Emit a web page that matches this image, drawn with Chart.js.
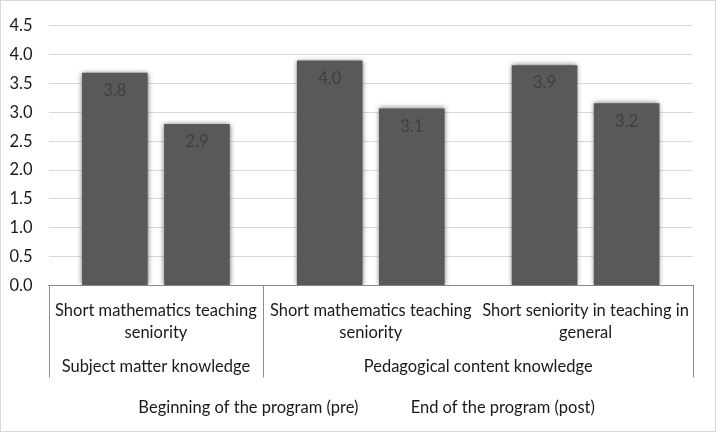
<!DOCTYPE html>
<html>
<head>
<meta charset="utf-8">
<script src="https://cdn.jsdelivr.net/npm/chart.js@4"></script>
<style>
  html, body { margin: 0; padding: 0; background: #fff; }
  #wrap { width: 723px; height: 434px; position: relative; }
</style>
</head>
<body>
<div id="wrap"><canvas id="chart"></canvas></div>
<script>
// category labels (inner level) and their outer groups
const categories = [
    ['Short mathematics teaching', 'seniority'],
    ['Short mathematics teaching', 'seniority'],
    ['Short seniority in teaching in', 'general']
];
const groupNames = ['Subject matter knowledge', 'Pedagogical content knowledge'];
const groupSpans = [1, 2];

// bar heights
const preValues = [3.69, 3.90, 3.82];
const postValues = [2.80, 3.07, 3.16];
// value labels printed inside the bars
const preLabels = ['3.8', '4.0', '3.9'];
const postLabels = ['2.9', '3.1', '3.2'];

const seriesNames = ['Beginning of the program (pre)', 'End of the program (post)'];
const yTicks = [0, 0.5, 1, 1.5, 2, 2.5, 3, 3.5, 4, 4.5];

const FONT = 'Lato';
const FSIZE = 16.5;
const barColor = '#595959';
const textColor = '#1a1a1a';

// soft edges on the bars
const barBlur = {
    id: 'barBlur',
    beforeDatasetsDraw(chart) {
        const ctx = chart.ctx;
        ctx.save();
        ctx.shadowColor = 'rgba(89,89,89,0.9)';
        ctx.shadowBlur = 5;
    },
    afterDatasetsDraw(chart) {
        chart.ctx.restore();
    }
};

// value labels just inside the top of each bar
const valueLabels = {
    id: 'valueLabels',
    afterDatasetsDraw(chart) {
        const ctx = chart.ctx;
        const texts = [preLabels, postLabels];
        ctx.save();
        ctx.font = FSIZE + 'px ' + FONT;
        ctx.fillStyle = '#3f3f3f';
        ctx.textAlign = 'center';
        ctx.textBaseline = 'middle';
        chart.data.datasets.forEach((ds, i) => {
            chart.getDatasetMeta(i).data.forEach((bar, j) => {
                ctx.fillText(texts[i][j], bar.x, bar.y + 18);
            });
        });
        ctx.restore();
    }
};

// outer category level, separator lines and chart border
const multiLevel = {
    id: 'multiLevel',
    afterDraw(chart) {
        const ctx = chart.ctx;
        const x = chart.scales.x;
        const top = x.top;
        const lineBottom = top + 92;
        ctx.save();
        ctx.strokeStyle = '#8c8c8c';
        ctx.lineWidth = 1;
        const bounds = [-0.5];
        let acc = 0;
        groupSpans.forEach(s => { acc += s; bounds.push(acc - 0.5); });
        bounds.forEach(b => {
            let px = Math.round(x.getPixelForValue(b)) + 0.5;
            ctx.beginPath();
            ctx.moveTo(px, top);
            ctx.lineTo(px, lineBottom);
            ctx.stroke();
        });
        ctx.font = FSIZE + 'px ' + FONT;
        ctx.fillStyle = textColor;
        ctx.textAlign = 'center';
        ctx.textBaseline = 'middle';
        groupNames.forEach((name, i) => {
            const a = x.getPixelForValue(bounds[i]);
            const b = x.getPixelForValue(bounds[i + 1]);
            ctx.fillText(name, (a + b) / 2, top + 81);
        });
        ctx.strokeStyle = '#d9d9d9';
        ctx.strokeRect(0.5, 0.5, 715, 431);
        ctx.restore();
    }
};

new Chart(document.getElementById('chart'), {
    type: 'bar',
    data: {
        labels: categories,
        datasets: [
            { label: seriesNames[0], data: preValues, backgroundColor: barColor },
            { label: seriesNames[1], data: postValues, backgroundColor: barColor }
        ]
    },
    options: {
        responsive: true,
        maintainAspectRatio: false,
        animation: false,
        categoryPercentage: 0.764,
        barPercentage: 0.8,
        layout: { padding: { left: 8, right: 30, top: 23, bottom: 8 } },
        plugins: {
            tooltip: { enabled: false },
            legend: {
                position: 'bottom',
                labels: {
                    font: { family: FONT, size: FSIZE },
                    color: textColor,
                    boxWidth: 24,
                    boxHeight: 10,
                    padding: 20,
                    generateLabels(chart) {
                        const items = Chart.defaults.plugins.legend.labels.generateLabels(chart);
                        items.forEach(it => {
                            it.fillStyle = 'rgba(0,0,0,0)';
                            it.strokeStyle = 'rgba(0,0,0,0)';
                            it.lineWidth = 0;
                        });
                        return items;
                    }
                }
            }
        },
        scales: {
            x: {
                grid: { display: false },
                border: { display: true, color: '#8c8c8c' },
                ticks: {
                    font: { family: FONT, size: FSIZE, lineHeight: 1.35 },
                    color: textColor,
                    maxRotation: 0,
                    autoSkip: false,
                    padding: 6
                },
                afterFit(scale) { scale.height = 94; }
            },
            y: {
                min: 0,
                max: 4.5,
                grid: { color: '#d9d9d9', drawTicks: false },
                border: { display: false },
                afterBuildTicks(scale) { scale.ticks = yTicks.map(v => ({ value: v })); },
                ticks: {
                    font: { family: FONT, size: FSIZE },
                    color: textColor,
                    padding: 16,
                    callback: v => v.toFixed(1)
                },
                afterFit(scale) { scale.width = 40.5; }
            }
        }
    },
    plugins: [barBlur, valueLabels, multiLevel]
});
</script>
</body>
</html>
